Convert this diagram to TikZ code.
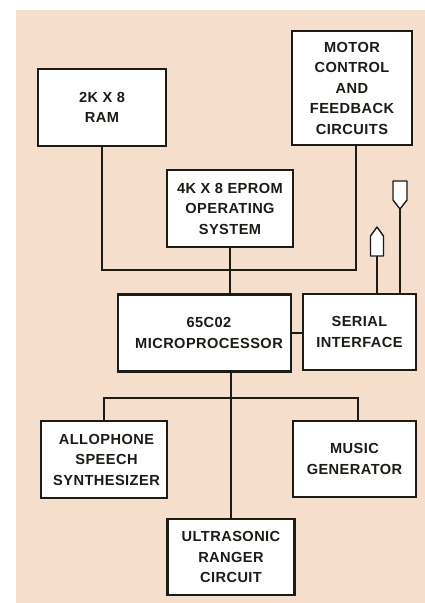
\documentclass[tikz,border=0pt]{standalone}
\usepackage{fontspec}
\setmainfont{Liberation Sans}
\newfontfamily\blockfont[LetterSpace=3]{Liberation Sans}
\usetikzlibrary{calc}
\definecolor{peach}{RGB}{245,222,204}
\definecolor{ink}{RGB}{28,28,22}
\begin{document}
\begin{tikzpicture}[x=1pt,y=-1pt,
  blk/.style={draw=ink,fill=white,line width=2.6pt,rectangle,inner sep=0pt,
    align=center,text=ink,font=\blockfont\bfseries\fontsize{14.6}{20.5}\selectfont},
  wire/.style={draw=ink,line width=1.4pt},
  plug/.style={draw=ink,fill=white,line width=1.4pt,line join=round}]
\useasboundingbox (0,0) rectangle (425,603);
\fill[peach] (16,10) rectangle (425,603);
% blocks
\node[blk,minimum width=128pt,minimum height=77pt] (ram) at (102,107.5) {2K X 8\\RAM};
\node[blk,minimum width=120pt,minimum height=114pt] (motor) at (352,88) {MOTOR\\CONTROL\\AND\\FEEDBACK\\CIRCUITS};
\node[blk,minimum width=126pt,minimum height=77pt] (eprom) at (230,208.5) {4K X 8 EPROM\\OPERATING\\SYSTEM};
\node[blk,minimum width=173pt,minimum height=77pt] (micro) at (204.5,333) {\hspace*{9pt}65C02\\\hspace*{9pt}MICROPROCESSOR};
\node[blk,minimum width=113pt,minimum height=76pt] (serial) at (359.5,332) {SERIAL\\INTERFACE};
\node[blk,minimum width=126pt,minimum height=77pt] (allo) at (104,459.5) {\hspace*{5pt}ALLOPHONE\\\hspace*{5pt}SPEECH\\\hspace*{5pt}SYNTHESIZER};
\node[blk,minimum width=123pt,minimum height=76pt] (music) at (354.5,459) {MUSIC\\GENERATOR};
\node[blk,minimum width=127pt,minimum height=76pt] (ultra) at (231,557) {ULTRASONIC\\RANGER\\CIRCUIT};
% bus coordinates
\coordinate (busA) at (230,270);
\coordinate (busB) at (231,398);
\coordinate (c1) at (377,256);
\coordinate (c2) at (400,209);
% upper bus
\draw[wire] (ram.south) |- (busA) -| ([xshift=4pt]motor.south);
\draw[wire] (eprom.south) -- (eprom.south |- micro.north);
\draw[wire] (micro.east) -- (micro.east -| serial.west);
% serial outputs
\draw[wire] (c1) -- (c1 |- serial.north);
\draw[wire] (c2) -- (c2 |- serial.north);
\draw[plug] (c1) ++(-6.5,0) -- ++(0,-20) -- ++(6.5,-9) -- ++(6.5,9) -- ++(0,20) -- cycle;
\draw[plug] (c2) -- ++(-7,-9) -- ++(0,-19) -- ++(14,0) -- ++(0,19) -- cycle;
% lower bus
\draw[wire] (ultra.north) -- (ultra.north |- micro.south);
\draw[wire] (allo.north) |- (busB) -| ([xshift=3.5pt]music.north);
\end{tikzpicture}
\end{document}
